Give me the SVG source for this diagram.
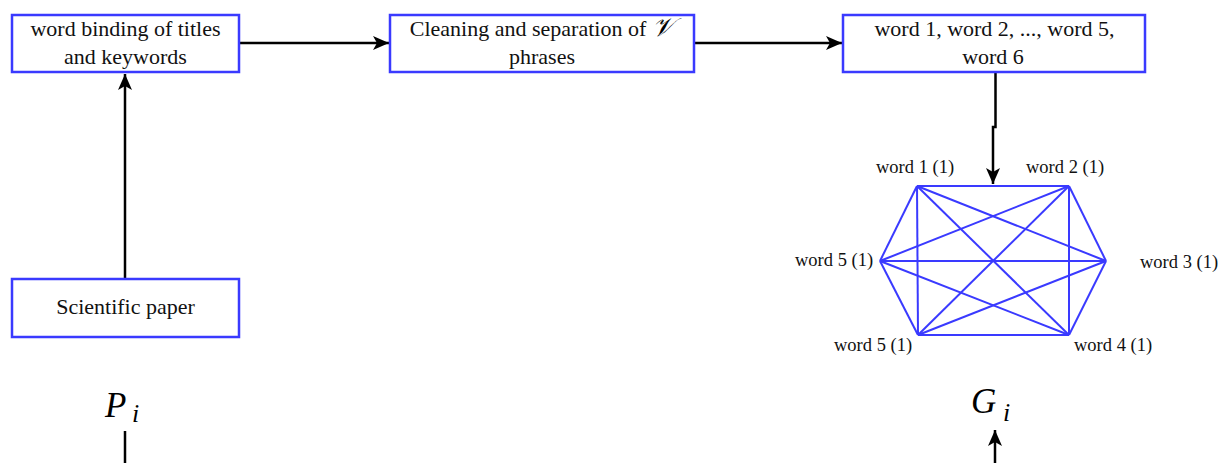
<svg xmlns="http://www.w3.org/2000/svg" width="1220" height="463" viewBox="0 0 1220 463">
<style>
.box{fill:#fff;stroke:#3a3aff;stroke-width:2.5}
.t{font-size:22px;fill:#111;text-anchor:middle}
.lbl{font-size:18.5px;fill:#111}
.conn{fill:none;stroke:#000;stroke-width:2.5}
.edge{stroke:#3a3aff;stroke-width:2;fill:none}
.m{font-style:italic;fill:#000}
</style>
<defs>
<marker id="ah" viewBox="0 0 16 14" refX="16" refY="7" markerWidth="16" markerHeight="14" markerUnits="userSpaceOnUse" orient="auto">
<path d="M0,0 L16,7 L0,14 L4,7 Z" fill="#000"/>
</marker>
</defs>
<g id="connectors">
<line class="conn" x1="239" y1="43" x2="389" y2="43" marker-end="url(#ah)"/>
<line class="conn" x1="694" y1="43" x2="842" y2="43" marker-end="url(#ah)"/>
<polyline class="conn" points="995.5,73 995.5,127 993,127 993,184" marker-end="url(#ah)"/>
<line class="conn" x1="125" y1="279" x2="125" y2="74" marker-end="url(#ah)"/>
<line class="conn" x1="125" y1="431" x2="125" y2="463"/>
<line class="conn" x1="995" y1="463" x2="995" y2="430" marker-end="url(#ah)"/>
</g>
<g font-family="'Liberation Serif', 'Times New Roman', serif">
<g id="n1">
<rect class="box" x="12" y="15" width="227" height="57"/>
<text class="t" x="125.5" y="36">word binding of titles</text>
<text class="t" x="125.5" y="64">and keywords</text>
</g>
<g id="n2">
<rect class="box" x="390" y="15" width="304" height="57"/>
<text class="t" x="528" y="36">Cleaning and separation of</text>
<text class="m" x="652" y="36" font-size="26" font-family="'DejaVu Serif', serif">𝒱</text>
<text class="t" x="542" y="64">phrases</text>
</g>
<g id="n3">
<rect class="box" x="843" y="15" width="302" height="57"/>
<text class="t" x="994.5" y="36">word 1, word 2, ..., word 5,</text>
<text class="t" x="993" y="64">word 6</text>
</g>
<g id="n4">
<rect class="box" x="12" y="279" width="227" height="58"/>
<text class="t" x="125.5" y="314">Scientific paper</text>
</g>
<g id="graph">
<g class="edge">
<line x1="917" y1="186" x2="1069" y2="186"/>
<line x1="1069" y1="186" x2="1106" y2="261"/>
<line x1="1106" y1="261" x2="1069" y2="335"/>
<line x1="1069" y1="335" x2="918" y2="335"/>
<line x1="918" y1="335" x2="880" y2="261"/>
<line x1="880" y1="261" x2="917" y2="186"/>
<line x1="917" y1="186" x2="918" y2="335"/>
<line x1="1069" y1="186" x2="1069" y2="335"/>
<line x1="880" y1="261" x2="1106" y2="261"/>
<line x1="917" y1="186" x2="1069" y2="335"/>
<line x1="1069" y1="186" x2="918" y2="335"/>
<line x1="917" y1="186" x2="1106" y2="261"/>
<line x1="1069" y1="186" x2="880" y2="261"/>
<line x1="880" y1="261" x2="1069" y2="335"/>
<line x1="1106" y1="261" x2="918" y2="335"/>
</g>
<text class="lbl" x="876" y="173">word 1 (1)</text>
<text class="lbl" x="1026" y="173">word 2 (1)</text>
<text class="lbl" x="795" y="266">word 5 (1)</text>
<text class="lbl" x="1140" y="268">word 3 (1)</text>
<text class="lbl" x="834" y="351">word 5 (1)</text>
<text class="lbl" x="1074" y="351">word 4 (1)</text>
</g>
<g id="Pi">
<text class="m" x="105" y="417" font-size="35">P</text>
<text class="m" x="132" y="422" font-size="26">i</text>
</g>
<g id="Gi">
<text class="m" x="971" y="413" font-size="35">G</text>
<text class="m" x="1003" y="421" font-size="26">i</text>
</g>
</g>
</svg>
